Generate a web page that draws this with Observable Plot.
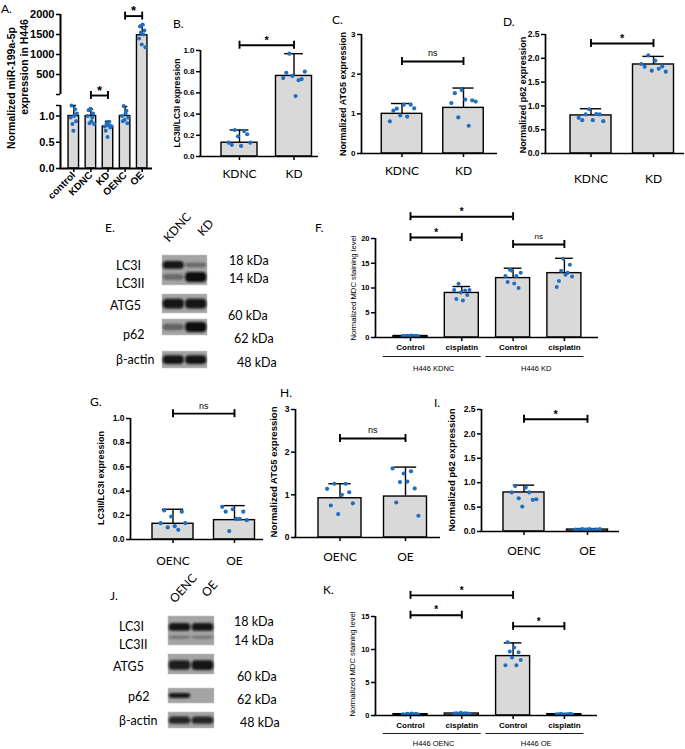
<!DOCTYPE html>
<html>
<head>
<meta charset="utf-8">
<script src="https://cdn.jsdelivr.net/npm/d3@7"></script>
<script src="https://cdn.jsdelivr.net/npm/@observablehq/plot@0.6"></script>
<style>
html,body{margin:0;padding:0;background:#fff;}
#fig{position:relative;width:685px;height:749px;overflow:hidden;background:#fff;}
#fig svg{position:absolute;left:0;top:0;background:transparent !important;overflow:visible;max-width:none;}
.t{position:absolute;white-space:nowrap;line-height:1;color:#000;}
</style>
</head>
<body>
<div id="fig"></div>
<script>
// ================= DATA =================
// Panel A: miR-199a-5p expression
const aCats = ["control","KDNC","KD","OENC","OE"];
const aMeans = [1.0, 1.0, 0.8, 1.0, 1480];
const aSD = [0.2, 0.13, 0.1, 0.18, 250];
const aDots = [
  [0.97, 1.2, 0.85, 0.72, 1.0, 1.13, 0.9, 1.05],
  [1.0, 1.11, 0.86, 1.14, 0.9, 0.97, 1.05, 0.85],
  [0.8, 0.72, 0.86, 0.6, 0.83, 0.89, 0.78, 0.81],
  [1.0, 0.9, 1.19, 0.93, 1.05, 1.1, 0.86, 0.97],
  [1400, 1700, 1550, 1250, 1750, 1500, 1600, 1180]
];
const aUpperTicks = [0, 500, 1000, 1500, 2000];
const aLowerTicks = [0, 0.5, 1.0, 1.2];

// Panel B: LC3II/LC3I (knockdown)
const kdCats = ["KDNC","KD"];
const bMeans = [0.13, 0.76];
const bSD = [0.12, 0.21];
const bDots = [
  [0.13, 0.11, 0.25, 0.19, 0.10, 0.24, 0.21, 0.13],
  [0.74, 0.79, 0.97, 0.76, 0.57, 0.72, 0.73, 0.80]
];
const bTicks = [0, 0.2, 0.4, 0.6, 0.8, 1.0];

// Panel C: ATG5 (knockdown)
const cMeans = [1.0, 1.15];
const cSD = [0.26, 0.5];
const cDots = [
  [0.81, 1.08, 1.13, 0.96, 1.23, 0.93, 1.23, 1.14],
  [1.27, 1.52, 0.91, 1.6, 1.36, 0.7, 1.34, 1.31]
];
const cTicks = [0, 1, 2, 3];

// Panel D: p62 (knockdown)
const dMeans = [0.8, 1.87];
const dSD = [0.14, 0.17];
const dDots = [
  [0.75, 0.7, 0.82, 0.93, 0.7, 0.83, 0.82, 0.68],
  [1.88, 1.82, 2.06, 1.74, 1.95, 1.78, 1.83, 1.72]
];
const dTicks = [0, 0.5, 1.0, 1.5, 2.0, 2.5];

// Panel E: western blot (knockdown), band intensities per lane
const eLanes = ["KDNC","KD"];
const blotBands = ["LC3I","LC3II","ATG5","p62","β-actin"];
const eKDNC = [0.95, 0.35, 0.95, 0.4, 0.95];
const eKD = [0.35, 1.0, 0.95, 1.0, 0.95];
const blotKDa = ["18 kDa","14 kDa","60 kDa","62 kDa","48 kDa"];

// Panel F: MDC staining (knockdown)
const mdcCats = ["Control","cisplatin","Control","cisplatin"];
const fGroups = ["H446 KDNC","H446 KD"];
const fMeans = [0.3, 9.0, 12.0, 13.0];
const fSD = [0.1, 1.3, 2.0, 3.0];
const fDots = [
  [0.3, 0.25, 0.35, 0.3, 0.4, 0.3, 0.35, 0.25],
  [9.6, 7.8, 10.85, 9.1, 7.5, 9.5, 8.6, 9.6],
  [12.4, 11.2, 13.7, 13.5, 10.9, 12.4, 10.0, 13.1],
  [10.2, 11.4, 13.5, 15.9, 12.7, 13.1, 14.7, 12.3]
];
const fTicks = [0, 5, 10, 15, 20];

// Panel G: LC3II/LC3I (overexpression)
const oeCats = ["OENC","OE"];
const gMeans = [0.13, 0.16];
const gSD = [0.12, 0.12];
const gDots = [
  [0.135, 0.24, 0.1, 0.19, 0.11, 0.08, 0.23, 0.135],
  [0.27, 0.23, 0.07, 0.25, 0.17, 0.17, 0.23, 0.16]
];
const gTicks = [0, 0.2, 0.4, 0.6, 0.8, 1.0];

// Panel H: ATG5 (overexpression)
const hMeans = [0.92, 0.96];
const hSD = [0.34, 0.69];
const hDots = [
  [1.14, 0.75, 1.26, 0.55, 1.0, 1.26, 1.06, 0.8],
  [1.62, 0.82, 1.3, 1.5, 1.31, 1.55, 1.15, 0.51]
];
const hTicks = [0, 1, 2, 3];

// Panel I: p62 (overexpression)
const iMeans = [0.8, 0.04];
const iSD = [0.15, 0.02];
const iDots = [
  [0.8, 0.93, 0.68, 0.51, 0.9, 0.8, 0.65, 0.66],
  [0.04, 0.03, 0.05, 0.04, 0.05, 0.03, 0.04, 0.05]
];
const iTicks = [0, 0.5, 1.0, 1.5, 2.0, 2.5];

// Panel J: western blot (overexpression)
const jLanes = ["OENC","OE"];
const jOENC = [0.95, 0.3, 0.9, 0.95, 0.85];
const jOE = [0.95, 0.3, 0.95, 0, 0.85];

// Panel K: MDC staining (overexpression)
const kGroups = ["H446 OENC","H446 OE"];
const kMeans = [0.2, 0.3, 9.0, 0.2];
const kSD = [0.05, 0.08, 2.0, 0.05];
const kDots = [
  [0.2, 0.15, 0.25, 0.2, 0.3, 0.2, 0.25, 0.15],
  [0.3, 0.35, 0.25, 0.4, 0.3, 0.35, 0.3, 0.25],
  [7.6, 11.1, 9.7, 8.8, 10.3, 7.6, 9.6, 8.4],
  [0.2, 0.2, 0.25, 0.15, 0.2, 0.2, 0.25, 0.2]
];
const kTicks = [0, 5, 10, 15];

// ================= DRAWING =================
const W = 685, H = 749;
const fig = document.getElementById("fig");
const ARIAL = "Liberation Sans, Arial, sans-serif";
const CAL = "Lato, 'Open Sans', sans-serif";
const BLUE = "#1f6fc0";

function addSvg(p) { fig.appendChild(p); return p; }

function barChart(o) {
  const n = o.cats.length, idx = d3.range(n);
  const xlo = (o.L - o.c0) / o.step, xhi = (o.R - o.c0) / o.step;
  const hw = o.bw / 2 / o.step;
  const keep = o.keep || (() => true);
  const inY = v => v >= o.yDomain[0] && v <= o.yDomain[1];
  const shown = idx.filter(keep);
  const bars = shown.map(i => ({x1: i - hw, x2: i + hw, y1: o.base ?? 0, y2: o.means[i]}));
  const errs = shown.filter(i => !o.clip || inY(o.means[i] + o.sds[i]))
                    .map(i => ({x: i, y1: o.means[i], y2: o.means[i] + o.sds[i]}));
  const pts = shown.flatMap(i => {
    const a = o.dots[i], m = a.length;
    return a.map((v, k) => ({x: i + (m > 1 ? k / (m - 1) - 0.5 : 0) * 2 * hw * (o.spread ?? 0.6), y: v}));
  }).filter(d => inY(d.y));
  const cap = o.bw * 0.26;
  const aw = o.axisW ?? 1.7;
  const marks = [
    Plot.rect(bars, {x1: "x1", x2: "x2", y1: "y1", y2: "y2", fill: "#d9d9d9", stroke: "black", strokeWidth: 1.4, clip: !!o.clip}),
    Plot.ruleX(errs, {x: "x", y1: "y1", y2: "y2", stroke: "black", strokeWidth: 1.4}),
    Plot.ruleY(errs, {x1: "x", x2: "x", y: "y2", insetLeft: -cap, insetRight: -cap, stroke: "black", strokeWidth: 1.4}),
    Plot.dot(pts, {x: "x", y: "y", r: o.r ?? 2.1, fill: BLUE, stroke: "none"}),
    Plot.ruleX([{x: xlo, y1: o.axisFrom ?? o.yDomain[0], y2: o.axisTo ?? o.yDomain[1]}], {x: "x", y1: "y1", y2: "y2", stroke: "black", strokeWidth: aw}),
    Plot.axisY({anchor: "left", ticks: o.yTicks, tickFormat: o.yFmt, tickSize: 4, tickPadding: 2,
      fontSize: o.tickFont, fontWeight: "bold", fontFamily: ARIAL, strokeWidth: 1.5})
  ];
  if (o.xAxis !== false) {
    marks.push(Plot.ruleY([{y: 0}], {y: "y", stroke: "black", strokeWidth: aw, insetLeft: -aw / 2}));
    const fs = o.catFont;
    marks.push(Plot.axisX({anchor: "bottom", ticks: idx, tickFormat: i => o.cats[i], tickSize: 4,
      tickPadding: o.catPad, fontSize: fs, fontFamily: o.catFamily ?? CAL, fontWeight: o.catWeight ?? "normal",
      tickRotate: o.catRotate ?? 0, strokeWidth: 1.5}));
  }
  const br = o.brackets || [];
  if (br.length) {
    marks.push(Plot.ruleY(br, {x1: "a", x2: "b", y: "y", stroke: "black", strokeWidth: 1.9}));
    marks.push(Plot.ruleX(br.flatMap(d => [{x: d.a, y: d.y}, {x: d.b, y: d.y}]),
      {x: "x", y1: "y", y2: "y", insetTop: -o.capH, insetBottom: -o.capH, stroke: "black", strokeWidth: 1.9}));
    marks.push(Plot.text(br.filter(d => d.label === "*"), {x: d => (d.a + d.b) / 2, y: "y", text: "label",
      dy: -o.capH - 1, fontSize: o.starFont ?? 11, fontWeight: "bold", fontFamily: ARIAL}));
    marks.push(Plot.text(br.filter(d => d.label !== "*"), {x: d => (d.a + d.b) / 2, y: "y", text: "label",
      dy: -o.capH - 4, fontSize: o.nsFont ?? 9, fontFamily: ARIAL}));
  }
  if (o.groups) {
    const g = o.groups.map((label, k) => ({a: 2 * k, b: 2 * k + 1, label}));
    marks.push(Plot.ruleY(g, {x1: d => d.a - 0.53, x2: d => d.b + 0.38, y: () => 0, dy: o.groupLineDy, stroke: "black", strokeWidth: 0.9}));
    marks.push(Plot.text(g, {x: d => (d.a + d.b) / 2 - 0.05, y: () => 0, dy: o.groupTextDy, text: "label", fontSize: 7.5, fontFamily: ARIAL}));
  }
  return addSvg(Plot.plot({
    width: W, height: H,
    marginLeft: o.L, marginRight: W - o.R, marginTop: o.T, marginBottom: H - o.B,
    x: {domain: [xlo, xhi], axis: null},
    y: {domain: o.yDomain, axis: null},
    style: {background: "transparent", overflow: "visible", fontFamily: ARIAL},
    marks
  }));
}

// blot drawing: lanes as x, relative position within blot as y
function blot(o) {
  const bands = o.lanes.flatMap((ln, li) => o.bands.map((bn, bi) => {
    const v = o.int[li][bi];
    const h = o.hMax[bi] * (0.4 + 0.6 * v) / (o.B - o.T);
    return {x1: li - 0.47, x2: li + 0.47, y1: o.centers[bi] - h / 2, y2: o.centers[bi] + h / 2, v};
  })).filter(d => d.v > 0);
  const strips = o.strips.map(([a, b]) => ({x1: -0.5, x2: o.lanes.length - 0.5, y1: a, y2: b}));
  const svg = addSvg(Plot.plot({
    width: W, height: H,
    marginLeft: o.L, marginRight: W - o.R, marginTop: o.T, marginBottom: H - o.B,
    x: {domain: [-0.5, o.lanes.length - 0.5], axis: null},
    y: {domain: [0, 1], reverse: true, axis: null},
    style: {background: "transparent", overflow: "visible"},
    marks: [
      Plot.rect(strips, {x1: "x1", x2: "x2", y1: "y1", y2: "y2", fill: "#a4a4a4", stroke: "#c8c8c8", strokeWidth: 0.6}),
      Plot.rect(bands, {x1: "x1", x2: "x2", y1: "y1", y2: "y2", fill: "#0c0c0c", fillOpacity: "v", rx: 4})
    ]
  }));
  const id = "blur" + o.id;
  const s = d3.select(svg);
  s.append("defs").append("filter").attr("id", id).attr("x", "-20%").attr("y", "-20%").attr("width", "140%").attr("height", "140%")
    .append("feGaussianBlur").attr("stdDeviation", 1.1);
  s.selectAll('g[aria-label="rect"]').filter((d, i) => i === 1).attr("filter", `url(#${id})`);
  return svg;
}

// ---- Panel A (broken axis: upper and lower segments) ----
const aBase = {cats: aCats, means: aMeans, sds: aSD, dots: aDots, L: 60, R: 152, c0: 73.3, step: 17.1, bw: 10.5,
  tickFont: 11, capH: 4, r: 2, starFont: 13, axisW: 2};
barChart({...aBase, T: 14, B: 105, yDomain: [-275, 2000], axisFrom: 0, axisTo: 2000,
  yTicks: aUpperTicks, yFmt: d => d === 0 ? "" : String(d), keep: i => aMeans[i] > 1.2, base: -700, clip: true, xAxis: false,
  brackets: [{a: 3, b: 4, y: 1960, label: "*"}]});
barChart({...aBase, T: 105, B: 168, yDomain: [0, 1.2], yTicks: aLowerTicks,
  yFmt: d => d === 1.2 ? "" : d.toFixed(1), clip: true,
  catFont: 10, catFamily: ARIAL, catWeight: "bold", catRotate: -45, catPad: 1,
  brackets: [{a: 1, b: 2, y: 1.39, label: "*"}]});

// ---- Panel B ----
barChart({cats: kdCats, means: bMeans, sds: bSD, dots: bDots, L: 200, R: 318, T: 50, B: 156, c0: 239, step: 54.5, bw: 36,
  yDomain: [0, 1], yTicks: bTicks, yFmt: d => d.toFixed(1), tickFont: 8, catFont: 12, catPad: 8.5, capH: 4,
  brackets: [{a: 0, b: 1, y: 1.05, label: "*"}]});
// ---- Panel C ----
barChart({cats: kdCats, means: cMeans, sds: cSD, dots: cDots, L: 361, R: 497, T: 34, B: 153, c0: 401.5, step: 61.5, bw: 40.5,
  yDomain: [0, 3], yTicks: cTicks, yFmt: d => String(d), tickFont: 8, catFont: 12, catPad: 8.5, capH: 4,
  brackets: [{a: 0, b: 1, y: 2.32, label: "ns"}]});
// ---- Panel D ----
barChart({cats: kdCats, means: dMeans, sds: dSD, dots: dDots, L: 545, R: 684, T: 34, B: 153, c0: 590.5, step: 62.5, bw: 41,
  yDomain: [0, 2.5], yTicks: dTicks, yFmt: d => d.toFixed(1), tickFont: 8.5, catFont: 12, catPad: 16.5, capH: 4,
  brackets: [{a: 0, b: 1, y: 2.31, label: "*"}]});
// ---- Panel F ----
barChart({cats: mdcCats, means: fMeans, sds: fSD, dots: fDots, L: 375, R: 598, T: 238, B: 337, c0: 410, step: 51.3, bw: 34,
  yDomain: [0, 20], yTicks: fTicks, yFmt: d => String(d), tickFont: 7.5, catFont: 8, catFamily: ARIAL, catWeight: "bold", catPad: 3,
  spread: 0.45, r: 2, capH: 4, starFont: 10, nsFont: 8,
  groups: fGroups, groupLineDy: 19, groupTextDy: 31,
  brackets: [{a: 0, b: 2, y: 24.4, label: "*"}, {a: 0, b: 1, y: 20.2, label: "*"}, {a: 2, b: 3, y: 18.8, label: "ns"}]});
// ---- Panel G ----
barChart({cats: oeCats, means: gMeans, sds: gSD, dots: gDots, L: 130, R: 263, T: 418, B: 539, c0: 172.5, step: 61.5, bw: 41,
  yDomain: [0, 1], yTicks: gTicks, yFmt: d => d.toFixed(1), tickFont: 8.5, catFont: 12, catPad: 12.5, capH: 4,
  brackets: [{a: 0, b: 1, y: 1.04, label: "ns"}]});
// ---- Panel H ----
barChart({cats: oeCats, means: hMeans, sds: hSD, dots: hDots, L: 295, R: 440, T: 409, B: 537, c0: 339.5, step: 65.5, bw: 43,
  yDomain: [0, 3], yTicks: hTicks, yFmt: d => String(d), tickFont: 8.5, catFont: 12, catPad: 10.5, capH: 4,
  brackets: [{a: 0, b: 1, y: 2.32, label: "ns"}]});
// ---- Panel I ----
barChart({cats: oeCats, means: iMeans, sds: iSD, dots: iDots, L: 481, R: 619, T: 409, B: 531, c0: 523.5, step: 63.5, bw: 41,
  yDomain: [0, 2.5], yTicks: iTicks, yFmt: d => d.toFixed(1), tickFont: 8.5, catFont: 12, catPad: 10.5, capH: 4,
  brackets: [{a: 0, b: 1, y: 2.3, label: "*"}]});
// ---- Panel K ----
barChart({cats: mdcCats, means: kMeans, sds: kSD, dots: kDots, L: 375, R: 597, T: 616, B: 715, c0: 410, step: 51.3, bw: 34,
  yDomain: [0, 15], yTicks: kTicks, yFmt: d => String(d), tickFont: 7.5, catFont: 8, catFamily: ARIAL, catWeight: "bold", catPad: 3,
  spread: 0.45, r: 2, capH: 4, starFont: 10,
  groups: kGroups, groupLineDy: 18, groupTextDy: 28,
  brackets: [{a: 0, b: 2, y: 18.2, label: "*"}, {a: 0, b: 1, y: 15.2, label: "*"}, {a: 2, b: 3, y: 13.5, label: "*"}]});

// ---- Blots E and J ----
blot({id: "E", lanes: eLanes, bands: blotBands, int: [eKDNC, eKD], L: 162, R: 207, T: 255, B: 368,
  strips: [[0, 0.265], [0.345, 0.513], [0.566, 0.708], [0.85, 1.0]],
  centers: [0.088, 0.195, 0.43, 0.637, 0.925], hMax: [8, 10, 10, 10, 9]});
blot({id: "J", lanes: jLanes, bands: blotBands, int: [jOENC, jOE], L: 168, R: 214, T: 616, B: 728,
  strips: [[0, 0.259], [0.339, 0.518], [0.643, 0.777], [0.857, 1.0]],
  centers: [0.098, 0.19, 0.438, 0.71, 0.93], hMax: [8, 5, 10, 5, 8]});

// ================= TEXT =================
function T(s, x, y, {font = CAL, size = 12, weight = "normal", rot = 0, center = false} = {}) {
  const d = document.createElement("div");
  d.className = "t";
  d.textContent = s;
  d.style.left = x + "px"; d.style.top = y + "px";
  d.style.fontFamily = font; d.style.fontSize = size + "px"; d.style.fontWeight = weight;
  if (center) d.style.transform = `translate(-50%,-50%) rotate(${rot}deg)`;
  else { d.style.transformOrigin = "0 50%"; d.style.transform = `translateY(-50%) rotate(${rot}deg)`; }
  fig.appendChild(d);
}
// panel letters
[["A.", 1, 9], ["B.", 173, 24], ["C.", 332, 20], ["D.", 503, 22], ["E.", 105, 228], ["F.", 315, 228],
 ["G.", 90, 402], ["H.", 280, 393], ["I.", 434, 403], ["J.", 110, 596], ["K.", 323, 590]]
  .forEach(([s, x, y]) => T(s, x, y, {size: 12}));
// y-axis titles
T("Normalized miR-199a-5p", 11, 88, {font: ARIAL, size: 10.5, weight: "bold", rot: -90, center: true});
T("expression in H446", 24, 67, {font: ARIAL, size: 10.5, weight: "bold", rot: -90, center: true});
T("LC3II/LC3I expression", 177, 103, {font: ARIAL, size: 8.5, weight: "bold", rot: -90, center: true});
T("Normalized ATG5 expression", 343, 94, {font: ARIAL, size: 9, weight: "bold", rot: -90, center: true});
T("Normalized p62 expression", 523, 95, {font: ARIAL, size: 9, weight: "bold", rot: -90, center: true});
T("Normalized MDC staining level", 354, 288, {font: ARIAL, size: 7.7, rot: -90, center: true});
T("LC3II/LC3I expression", 101, 478, {font: ARIAL, size: 9, weight: "bold", rot: -90, center: true});
T("Normalized ATG5 expression", 274, 472, {font: ARIAL, size: 9.5, weight: "bold", rot: -90, center: true});
T("Normalized p62 expression", 452, 470, {font: ARIAL, size: 9.5, weight: "bold", rot: -90, center: true});
T("Normalized MDC staining level", 353, 664, {font: ARIAL, size: 7.7, rot: -90, center: true});
// blot E labels
T(eLanes[0], 166, 240, {size: 12, rot: -48});
T(eLanes[1], 200, 234, {size: 12, rot: -48});
T(blotBands[0], 116, 266, {size: 12.5});
T(blotBands[1], 116, 284, {size: 12.5});
T(blotBands[2], 110, 306, {size: 12.5});
T(blotBands[3], 123, 335, {size: 12.5});
T(blotBands[4], 116, 360, {size: 12.5});
T(blotKDa[0], 229, 261, {size: 12.5});
T(blotKDa[1], 229, 279, {size: 12.5});
T(blotKDa[2], 228, 316, {size: 12.5});
T(blotKDa[3], 234, 339, {size: 12.5});
T(blotKDa[4], 237, 363, {size: 12.5});
// blot J labels
T(jLanes[0], 172, 601, {size: 12, rot: -48});
T(jLanes[1], 204, 595, {size: 12, rot: -48});
T(blotBands[0], 119, 627, {size: 12.5});
T(blotBands[1], 119, 645, {size: 12.5});
T(blotBands[2], 113, 667, {size: 12.5});
T(blotBands[3], 128, 697, {size: 12.5});
T(blotBands[4], 119, 721, {size: 12.5});
T(blotKDa[0], 234, 622, {size: 12.5});
T(blotKDa[1], 234, 641, {size: 12.5});
T(blotKDa[2], 237, 677, {size: 12.5});
T(blotKDa[3], 237, 700, {size: 12.5});
T(blotKDa[4], 240, 723, {size: 12.5});
</script>
</body>
</html>
